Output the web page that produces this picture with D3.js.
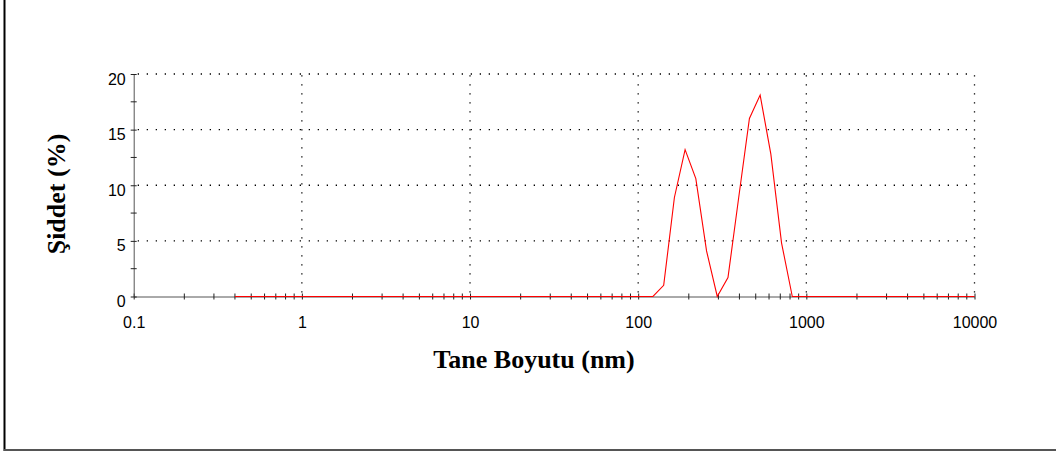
<!DOCTYPE html>
<html>
<head>
<meta charset="utf-8">
<script src="https://cdn.jsdelivr.net/npm/d3@7"></script>
<style>
  body { margin: 0; background: #fff; }
  svg { display: block; }
</style>
</head>
<body>
<svg id="chart" width="1056" height="454"></svg>
<script>
// particle size bins (nm)
const sizes = [
  0.4, 0.4632, 0.5365, 0.6213, 0.7195, 0.8332, 0.9649, 1.117, 1.294, 1.499,
  1.736, 2.01, 2.328, 2.696, 3.122, 3.615, 4.187, 4.849, 5.615, 6.503,
  7.531, 8.721, 10.1, 11.7, 13.54, 15.69, 18.17, 21.04, 24.36, 28.21,
  32.67, 37.84, 43.82, 50.75, 58.77, 68.06, 78.82, 91.28, 105.7, 122.4,
  141.8, 164.2, 190.1, 220.2, 255, 295.3, 342, 396.1, 458.7, 531.2,
  615.1, 712.4, 825, 955.4, 1106, 1281, 1484, 1718, 1990, 2305,
  2669, 3091, 3580, 4145, 4801, 5560, 6439, 7456, 8635, 10000
];
// intensity (%)
const intensity = [
  0, 0, 0, 0, 0, 0, 0, 0, 0, 0,
  0, 0, 0, 0, 0, 0, 0, 0, 0, 0,
  0, 0, 0, 0, 0, 0, 0, 0, 0, 0,
  0, 0, 0, 0, 0, 0, 0, 0, 0, 0,
  1.0, 8.9, 13.2, 10.6, 4.1, 0, 1.7, 8.9, 16.0, 18.1,
  12.8, 4.8, 0, 0, 0, 0, 0, 0, 0, 0,
  0, 0, 0, 0, 0, 0, 0, 0, 0, 0
];
const xTicks = [0.1, 1, 10, 100, 1000, 10000];
const xTickLabels = ['0.1', '1', '10', '100', '1000', '10000'];
const yTicks = [0, 5, 10, 15, 20];
const yMinorTicks = [2.5, 7.5, 12.5, 17.5];
const xTitle = 'Tane Boyutu (nm)';
const yTitle = 'Şiddet (%)';

const svg = d3.select('#chart');
const plotLeft = 133.7, plotRight = 974.5, plotTop = 74, plotBottom = 296.5;

const x = d3.scaleLog().domain([0.1, 10000]).range([plotLeft, plotRight]);
const y = d3.scaleLinear().domain([0, 20]).range([plotBottom, plotTop]);

// frame
svg.append('line')
  .attr('x1', 4.5).attr('x2', 4.5).attr('y1', 0).attr('y2', 451)
  .attr('stroke', '#000').attr('stroke-width', 2);
svg.append('line')
  .attr('x1', 4).attr('x2', 1056).attr('y1', 450).attr('y2', 450)
  .attr('stroke', '#555').attr('stroke-width', 2);

// dotted grid
const grid = svg.append('g')
  .attr('stroke', '#000')
  .attr('stroke-width', 1.3)
  .attr('stroke-dasharray', '1.3,7.7');
grid.selectAll('.hg')
  .data(yTicks.slice(1))
  .enter().append('line')
  .attr('x1', plotLeft + 4).attr('x2', plotRight)
  .attr('y1', d => y(d)).attr('y2', d => y(d));
grid.selectAll('.vg')
  .data(xTicks.slice(1))
  .enter().append('line')
  .attr('x1', d => x(d)).attr('x2', d => x(d))
  .attr('y1', plotBottom - 4).attr('y2', plotTop);

// X axis
const minorX = x.ticks().filter(d => !xTicks.some(t => Math.abs(t - d) < 1e-9));
const xAxis = svg.append('g')
  .attr('transform', 'translate(0,' + plotBottom + ')')
  .call(d3.axisBottom(x).tickValues(xTicks).tickFormat((d, i) => xTickLabels[i]).tickSizeOuter(0));
xAxis.select('.domain').attr('stroke', '#555');
xAxis.selectAll('.tick line').attr('y1', -3).attr('y2', 3).attr('stroke', '#222');
xAxis.selectAll('.tick text')
  .attr('y', 31).attr('dy', 0)
  .style('font-family', '"Liberation Sans", Arial, sans-serif')
  .style('font-size', '16px')
  .attr('fill', '#000');
xAxis.selectAll('.minor')
  .data(minorX)
  .enter().append('line')
  .attr('x1', d => x(d)).attr('x2', d => x(d))
  .attr('y1', -3).attr('y2', 3)
  .attr('stroke', '#222');

// Y axis
const yAxis = svg.append('g')
  .attr('transform', 'translate(' + plotLeft + ',0)')
  .call(d3.axisLeft(y).tickValues(yTicks).tickSizeOuter(0));
yAxis.select('.domain').attr('stroke', '#555');
yAxis.selectAll('.tick line').attr('x1', -3).attr('x2', 3).attr('stroke', '#222');
yAxis.selectAll('.tick text')
  .attr('x', -8).attr('dy', 10)
  .style('font-family', '"Liberation Sans", Arial, sans-serif')
  .style('font-size', '16px')
  .attr('fill', '#000');
yAxis.selectAll('.minor')
  .data(yMinorTicks)
  .enter().append('line')
  .attr('x1', -3).attr('x2', 3)
  .attr('y1', d => y(d)).attr('y2', d => y(d))
  .attr('stroke', '#222');

// data line
const line = d3.line()
  .x((d, i) => x(sizes[i]))
  .y(d => y(d));
svg.append('path')
  .datum(intensity)
  .attr('d', line)
  .attr('fill', 'none')
  .attr('stroke', '#ff0000')
  .attr('stroke-width', 1.1);

// titles
svg.append('text')
  .attr('x', 534).attr('y', 368)
  .attr('text-anchor', 'middle')
  .style('font-family', '"Liberation Serif", "Times New Roman", serif')
  .style('font-weight', 'bold')
  .style('font-size', '26px')
  .text(xTitle);
svg.append('text')
  .attr('transform', 'translate(65,194) rotate(-90)')
  .attr('text-anchor', 'middle')
  .style('font-family', '"Liberation Serif", "Times New Roman", serif')
  .style('font-weight', 'bold')
  .style('font-size', '26px')
  .text(yTitle);
</script>
</body>
</html>
